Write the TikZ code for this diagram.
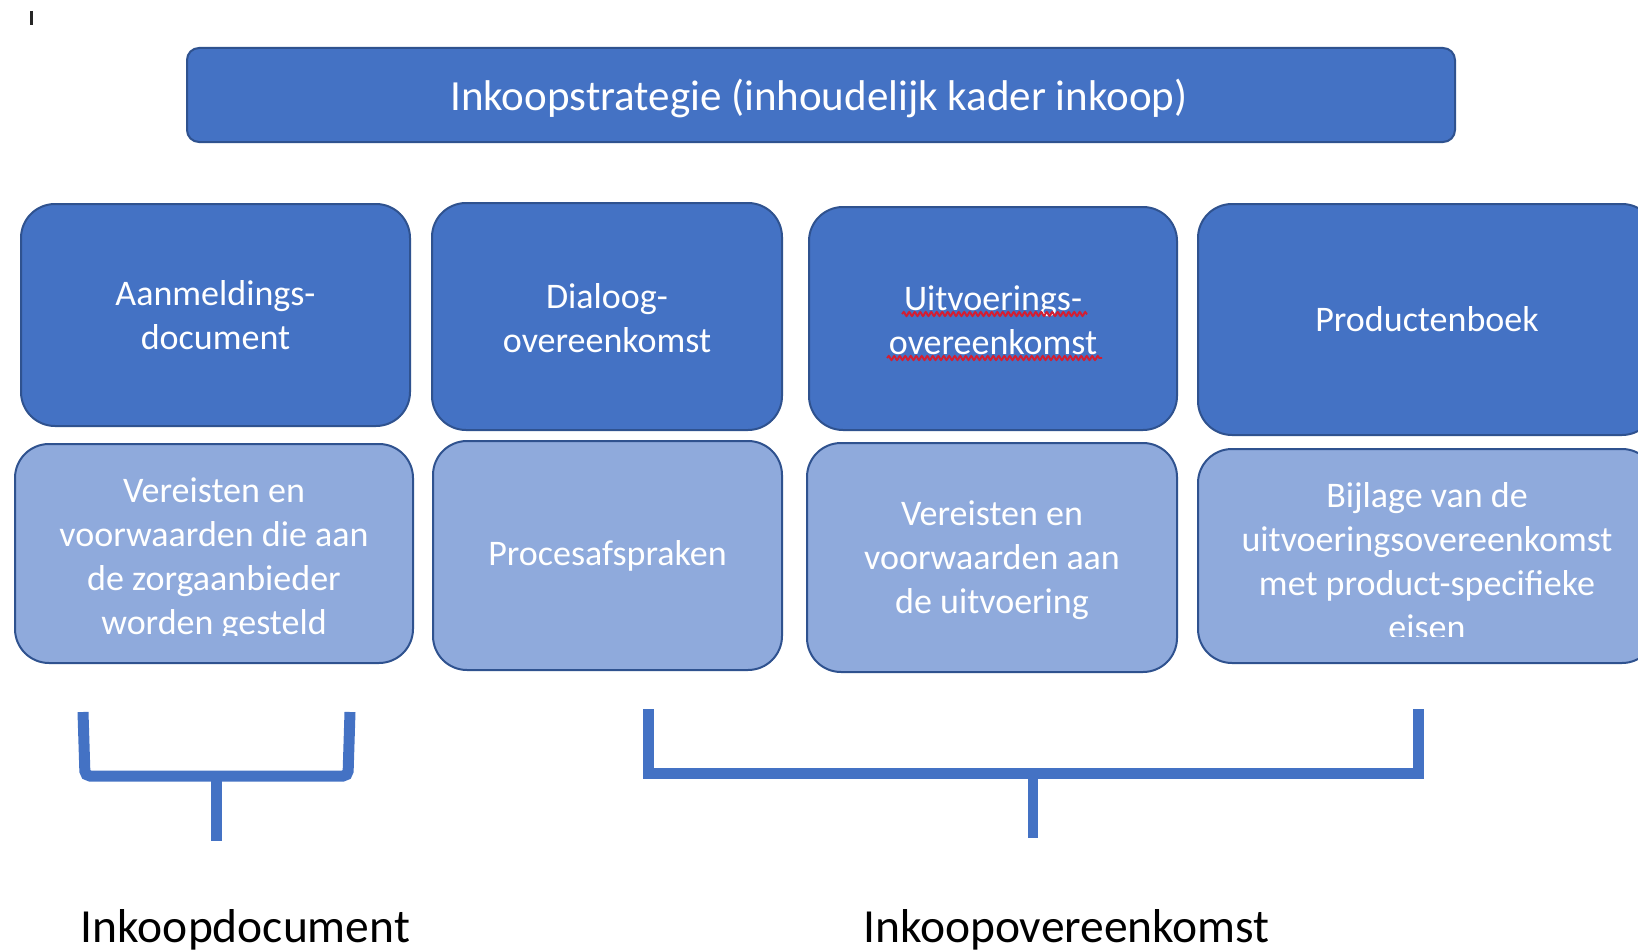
\documentclass[tikz,border=0pt]{standalone}
\usepackage{fontspec}
\setmainfont{Carlito}
\usetikzlibrary{decorations.pathmorphing}
\definecolor{dblue}{HTML}{4472C4}
\definecolor{lblue}{HTML}{8FAADC}
\definecolor{bord}{HTML}{2F528F}
\definecolor{squigred}{HTML}{D21F33}
\begin{document}
\begin{tikzpicture}[x=1pt,y=-1pt,
  topbox/.style={draw=bord, fill=dblue, line width=2pt, rounded corners=12pt, inner sep=0pt},
  hibox/.style={draw=bord, fill=dblue, line width=2pt, rounded corners=34pt, inner sep=0pt, text=white, align=center, font=\fontsize{36}{44}\selectfont},
  lobox/.style={hibox, fill=lblue},
  boxtext/.style={text=white, align=center, inner sep=0pt, font=\fontsize{36}{44}\selectfont},
  titletext/.style={text=white, inner sep=0pt, font=\fontsize{43}{52}\selectfont},
  bracketline/.style={draw=dblue, line width=11pt, line join=miter, line cap=butt},
  bottomtext/.style={text=black, inner sep=0pt, anchor=base, font=\fontsize{47.5}{57}\selectfont},
  squiggle/.style={draw=squigred, line width=1.9pt, decorate, decoration={snake, segment length=5.5pt, amplitude=2pt}}
]
\useasboundingbox (0,0) rectangle (1638,950);
\clip (0,0) rectangle (1638,950);
\fill[white] (0,0) rectangle (1638,950);

% cursor tick
\coordinate (tickA) at (31.5,11);
\coordinate (tickB) at (31.5,25);
\draw[line width=2.5pt, black!85] (tickA) -- (tickB);

% top box
\node[topbox, minimum width=1268pt, minimum height=94pt] (strat) at (821,95) {};
\node[titletext] (strattext) at (819,98) {Inkoopstrategie (inhoudelijk kader inkoop)};

% upper row
\node[hibox, minimum width=389pt, minimum height=222pt] (a1) at (215.5,315) {Aanmeldings-\\document};
\node[hibox, minimum width=350pt, minimum height=227pt] (b1) at (607,316.5) {};
\node[boxtext] (b1t) at (607,318.5) {Dialoog-\\overeenkomst};
\node[hibox, minimum width=368pt, minimum height=223pt] (c1) at (993,318.5) {};
\node[boxtext] (c1t) at (993,320.5) {Uitvoerings-\\overeenkomst};
\node[hibox, minimum width=458pt, minimum height=231pt] (d1) at (1427,319.5) {Productenboek};

% spell-check squiggles
\coordinate (sq1a) at (902,314);
\coordinate (sq1b) at (1087,314);
\coordinate (sq2a) at (887,358);
\coordinate (sq2b) at (1102,358);
\draw[squiggle] (sq1a) -- (sq1b);
\draw[squiggle] (sq2a) -- (sq2b);

% lower row
\node[lobox, minimum width=398pt, minimum height=219pt] (a2) at (214,553.5) {};
\begin{scope}
  \clip (15,444) rectangle (413,635);
  \node[boxtext] (a2t) at (214,559.5) {Vereisten en\\voorwaarden die aan\\de zorgaanbieder\\worden gesteld};
\end{scope}
\node[lobox, minimum width=349pt, minimum height=229pt] (b2) at (607.5,555.5) {Procesafspraken};
\node[lobox, minimum width=370pt, minimum height=229pt] (c2) at (992,557.5) {};
\node[boxtext] (c2t) at (992,560) {Vereisten en\\voorwaarden aan\\de uitvoering};
\node[lobox, minimum width=458pt, minimum height=214pt] (d2) at (1427,556) {};
\begin{scope}
  \clip (1198,449) rectangle (1656,636);
  \node[boxtext] (d2t) at (1427,561) {Bijlage van de\\uitvoeringsovereenkomst\\met product-specifieke\\eisen};
\end{scope}

% left bracket
\coordinate (lbL) at (83,712);
\coordinate (lbLb) at (85,776);
\coordinate (lbRb) at (348,776);
\coordinate (lbR) at (350,712);
\coordinate (lbS) at (216.5,776);
\coordinate (lbE) at (216.5,841);
\draw[bracketline, rounded corners=5pt] (lbL) -- (lbLb) -- (lbRb) -- (lbR);
\draw[bracketline] (lbS) -- (lbE);

% right bracket
\coordinate (rbL) at (648.5,709);
\coordinate (rbLb) at (648.5,773);
\coordinate (rbRb) at (1418.5,773);
\coordinate (rbR) at (1418.5,709);
\coordinate (rbS) at (1033,773);
\coordinate (rbE) at (1033,838);
\draw[bracketline] (rbL) -- (rbLb) -- (rbRb) -- (rbR);
\draw[bracketline, line width=10pt] (rbS) -- (rbE);

% bottom labels
\node[bottomtext] (lab1) at (245.5,942) {Inkoopdocument};
\node[bottomtext] (lab2) at (1066.5,942) {Inkoopovereenkomst};
\end{tikzpicture}
\end{document}
